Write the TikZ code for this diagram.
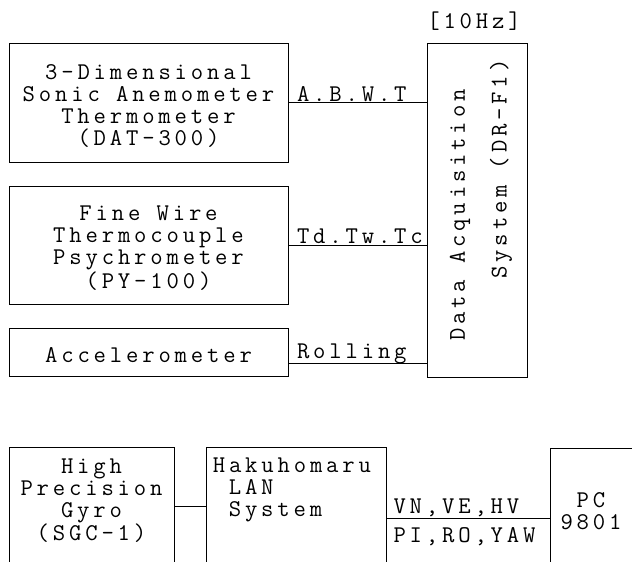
\documentclass[tikz,border=0pt]{standalone}
\usepackage{fontspec}
\setmonofont{Latin Modern Mono}[LetterSpace=16]
\usetikzlibrary{positioning}

\tikzset{
  blk/.style={draw, rectangle, inner sep=0pt, align=center},
  sig/.style={anchor=base west, inner sep=0pt},
}
\newcommand{\toppad}{\rule{0pt}{21pt}}

\begin{document}
\begin{tikzpicture}[x=1pt, y=-1pt, line width=1pt, font=\ttfamily\fontsize{24}{22}\selectfont]
  \useasboundingbox (0,0) rectangle (632,562);
  \clip (0,0) rectangle (632,562);
  % sensors feeding the recorder
  \node[blk, minimum width=279pt, minimum height=119pt] (sonic) at (148.5,102.5)
    {\toppad 3-Dimensional\\Sonic Anemometer\\Thermometer\\(DAT-300)};
  \node[blk, minimum width=279pt, minimum height=118pt] (psy) at (148.5,245)
    {\toppad Fine Wire\\Thermocouple\\Psychrometer\\(PY-100)};
  \node[blk, minimum width=279pt, minimum height=48pt] (acc) at (148.5,352)
    {\rule{0pt}{22pt}Accelerometer};
  % data acquisition system (recorder)
  \node[blk, minimum width=100pt, minimum height=334pt] (daq) at (477,210) {};
  \node[rotate=90] (daqa) at (460,215) {Data Acquisition};
  \node[rotate=90] (daqb) at (501,169) {System\hspace{16pt}(DR-F1)};
  \node (rate) at (474,21) {[10Hz]};
  % signal lines
  \draw (sonic.east) -- (sonic.east -| daq.west)
    node[sig, pos=0, xshift=8pt, yshift=1.5pt] {A.B.W.T};
  \draw (psy.east) -- (psy.east -| daq.west)
    node[sig, pos=0, xshift=8pt, yshift=2pt] {Td.Tw.Tc};
  \coordinate (roll) at ([yshift=13pt]acc.south east);
  \draw (roll) -- (roll -| daq.west)
    node[sig, pos=0, xshift=8pt, yshift=5pt] {Rolling};
  % navigation chain
  \node[blk, minimum width=165pt, minimum height=140pt, anchor=north west] (gyro) at (9,447) {};
  \node[align=center] (gyrotxt) at (91.5,501) {High\\Precision\\Gyro\\(SGC-1)};
  \node[blk, minimum width=180pt, minimum height=140pt, anchor=north west] (lan) at (206,447) {};
  \node[align=left, anchor=west] (lantxt) at (209,490)
    {Hakuhomaru\\\hspace*{16pt}LAN\\\hspace*{16pt}System};
  \node[blk, minimum width=100pt, minimum height=140pt, anchor=north west] (pc) at (550,448) {};
  \node[align=center] (pctxt) at (591,511) {PC\\9801};
  \coordinate (gyroout) at ([yshift=-59pt]gyro.north east);
  \draw (gyroout) -- (gyroout -| lan.west);
  \coordinate (lanout) at ([yshift=-71pt]lan.north east);
  \draw (lanout) -- (lanout -| pc.west)
    node[sig, pos=0, xshift=6pt, yshift=5pt] {VN,VE,HV}
    node[sig, pos=0, xshift=6pt, yshift=-24pt] {PI,RO,YAW};
\end{tikzpicture}
\end{document}
